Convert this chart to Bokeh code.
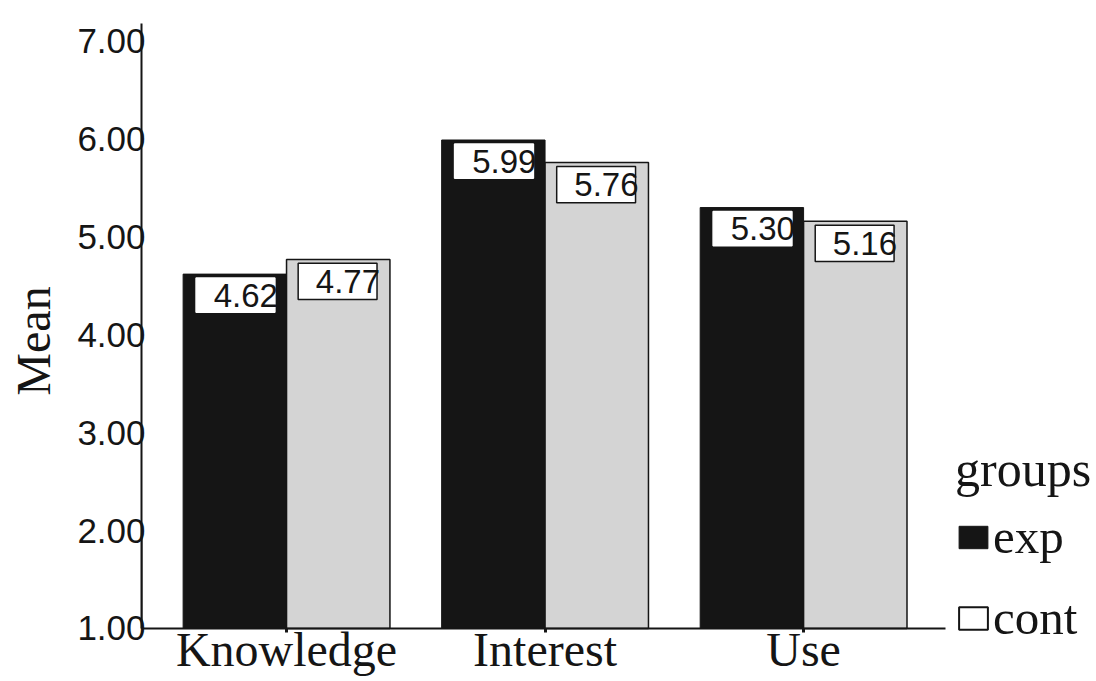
from bokeh.plotting import figure
from bokeh.models import (ColumnDataSource, Range1d, FixedTicker, NumeralTickFormatter,
                          Legend, LegendItem)
from bokeh.core.properties import value
from bokeh.embed import file_html
from bokeh.resources import INLINE

# ---- data ----
categories = ["Knowledge", "Interest", "Use"]
exp_means = [4.62, 5.99, 5.30]
cont_means = [4.77, 5.76, 5.16]
exp_labels = ["4.62", "5.99", "5.30"]
cont_labels = ["4.77", "5.76", "5.16"]
y_ticks = [1, 2, 3, 4, 5, 6, 7]

# ---- style ----
INK = "#151515"
SERIF = "Liberation Serif"
SANS = "Liberation Sans"
BAR_W = 0.4
BASE = 1.0
X_START, X_AXIS_END, X_END = 0.439, 3.549, 4.133
Y_START, Y_AXIS_END, Y_END = 0.4586, 7.18, 7.415

pos = [i + 1 for i in range(len(categories))]
exp_x = [p_ - BAR_W / 2 for p_ in pos]
cont_x = [p_ + BAR_W / 2 for p_ in pos]

p = figure(width=1096, height=681, output_backend="svg", toolbar_location=None,
           x_range=Range1d(X_START, X_END), y_range=Range1d(Y_START, Y_END),
           min_border_left=141, min_border_right=0, min_border_top=0,
           min_border_bottom=0)
p.outline_line_color = None
p.grid.visible = False
p.background_fill_color = "white"
p.border_fill_color = "white"

exp_src = ColumnDataSource(dict(x=exp_x, top=exp_means, lab=exp_labels,
                                bl=[x - BAR_W / 2 + 0.05 for x in exp_x],
                                br=[x + BAR_W / 2 - 0.045 for x in exp_x],
                                bt=[v - 0.04 for v in exp_means],
                                bb=[v - 0.39 for v in exp_means],
                                ty=[v - 0.215 for v in exp_means]))
cont_src = ColumnDataSource(dict(x=cont_x, top=cont_means, lab=cont_labels,
                                 bl=[x - BAR_W / 2 + 0.045 for x in cont_x],
                                 br=[x + BAR_W / 2 - 0.05 for x in cont_x],
                                 bt=[v - 0.04 for v in cont_means],
                                 bb=[v - 0.41 for v in cont_means],
                                 ty=[v - 0.225 for v in cont_means]))

p.vbar(x="x", top="top", bottom=BASE, width=BAR_W, source=exp_src,
       fill_color=INK, line_color=INK, line_width=1)
p.vbar(x="x", top="top", bottom=BASE, width=BAR_W, source=cont_src,
       fill_color="#d4d4d4", line_color=INK, line_width=1.5)

# value label boxes
for src, lc in ((exp_src, "white"), (cont_src, INK)):
    p.quad(left="bl", right="br", top="bt", bottom="bb", source=src,
           fill_color="white", line_color=lc, line_width=1.5)
    p.text(x="br", y="ty", text="lab", source=src, text_align="right",
           text_baseline="middle", x_offset=3, text_font=value(SANS),
           text_font_size="33px", text_color=INK)

# legend proxies (plain white / black swatches, outside the visible range)
leg_exp = p.vbar(x=[-10], top=[2], bottom=BASE, width=BAR_W, fill_color=INK, line_color=INK)
leg_cont = p.vbar(x=[-10], top=[2], bottom=BASE, width=BAR_W, fill_color="white",
                  line_color=INK, line_width=2)

legend = Legend(items=[LegendItem(label="exp", renderers=[leg_exp]),
                       LegendItem(label="cont", renderers=[leg_cont])],
                title="groups", location=(814, 35), orientation="vertical")
legend.title_text_font = SERIF
legend.title_text_font_size = "50px"
legend.title_text_font_style = "normal"
legend.title_text_color = INK
legend.title_standoff = 10
legend.label_text_font = SERIF
legend.label_text_font_size = "49px"
legend.label_text_color = INK
legend.label_standoff = 2
legend.glyph_width = 36
legend.glyph_height = 28
legend.spacing = 24
legend.padding = 0
legend.margin = 0
legend.border_line_color = None
legend.background_fill_alpha = 0
p.add_layout(legend, "center")

# x axis (drawn at y = 1, the bars' base)
xa = p.xaxis[0]
xa.fixed_location = BASE
xa.bounds = (X_START, X_AXIS_END)
xa.ticker = FixedTicker(ticks=pos)
xa.major_label_overrides = {p_: c for p_, c in zip(pos, categories)}
xa.major_label_text_font = SERIF
xa.major_label_text_font_size = "48px"
xa.major_label_text_color = INK
xa.major_label_standoff = -9
xa.major_tick_out = 4
xa.major_tick_in = 0
xa.major_tick_line_width = 3
xa.major_tick_line_color = INK
xa.minor_tick_line_color = None
xa.axis_line_color = INK
xa.axis_line_width = 2

# y axis
ya = p.yaxis[0]
ya.bounds = (BASE, Y_AXIS_END)
ya.ticker = FixedTicker(ticks=y_ticks)
ya.formatter = NumeralTickFormatter(format="0.00")
ya.major_label_text_font = SANS
ya.major_label_text_font_size = "35px"
ya.major_label_text_color = INK
ya.major_label_standoff = -4
ya.major_tick_out = 0
ya.major_tick_in = 0
ya.minor_tick_line_color = None
ya.axis_line_color = INK
ya.axis_line_width = 2
ya.axis_label = "Mean"
ya.axis_label_text_font = SERIF
ya.axis_label_text_font_size = "48px"
ya.axis_label_text_font_style = "normal"
ya.axis_label_text_color = INK
ya.axis_label_standoff = 14

open("out.html", "w").write(file_html(p, INLINE))
